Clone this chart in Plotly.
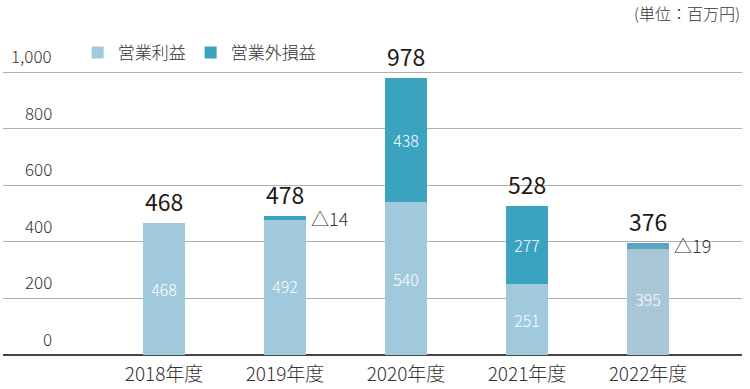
import plotly.graph_objects as go

years = ["2018年度", "2019年度", "2020年度", "2021年度", "2022年度"]
operating = [468, 492, 540, 251, 395]
non_operating = [0, -14, 438, 277, -19]
totals = [468, 478, 978, 528, 376]
y_ticks = [0, 200, 400, 600, 800, 1000]
y_tick_labels = ["0", "200", "400", "600", "800", "1,000"]

light_colors = ["#a0cadb", "#a0cadb", "#a0cadb", "#a0cadb", "#a7c6d8"]
dark_colors = ["#3aa4c0", "#3aa4c0", "#3aa4c0", "#3aa4c0", "#5ba5c0"]

FONT = "Noto Sans CJK JP"
xs = list(range(len(years)))

fig = go.Figure()
fig.add_trace(go.Bar(
    x=xs, y=operating, base=0, name="営業利益",
    marker=dict(color=light_colors, line=dict(width=0)),
    width=0.34,
    text=[str(v) for v in operating], textposition="inside",
    insidetextanchor="middle", textangle=0,
    textfont=dict(family=FONT, size=16, color="white", weight=300),
))
fig.add_trace(go.Bar(
    x=xs, y=non_operating, base=operating, name="営業外損益",
    marker=dict(color=dark_colors, line=dict(width=0)),
    width=0.34,
    text=[str(v) if v > 0 else "" for v in non_operating], textposition="inside",
    insidetextanchor="middle", textangle=0,
    textfont=dict(family=FONT, size=16, color="white", weight=300),
))

annotations = []
for i, (op, no, tot) in enumerate(zip(operating, non_operating, totals)):
    top = max(op, op + no)
    annotations.append(dict(
        x=i, y=top, xref="x", yref="y", text=str(tot), showarrow=False,
        yanchor="bottom", yshift=3,
        font=dict(family=FONT, size=23, color="#231815"),
    ))
    if no < 0:
        annotations.append(dict(
            x=i + 0.17, y=top, xref="x", yref="y", text="△" + str(-no), showarrow=False,
            xanchor="left", yanchor="middle", xshift=3, yshift=-2,
            font=dict(family=FONT, size=18, color="#333333", weight=300),
        ))
for v, lab in zip(y_ticks, y_tick_labels):
    annotations.append(dict(
        x=0.069, y=v, xref="paper", yref="y", text=lab, showarrow=False,
        xanchor="right", yanchor="bottom", yshift=2,
        font=dict(family=FONT, size=17, color="#333333", weight=300),
    ))
annotations.append(dict(
    x=1, y=1 + 27 / 315, xref="paper", yref="paper", text="(単位：百万円)",
    showarrow=False, xanchor="right", yanchor="middle",
    font=dict(family=FONT, size=16, color="#333333", weight=300),
))

fig.update_layout(
    width=750, height=389,
    margin=dict(l=3, r=8, t=40, b=34),
    paper_bgcolor="white", plot_bgcolor="white",
    barmode="overlay", bargap=0,
    font=dict(family=FONT, color="#333333"),
    showlegend=True,
    legend=dict(
        orientation="h", x=0.101, y=0.959, xanchor="left", yanchor="middle",
        font=dict(family=FONT, size=17, color="#333333", weight=300),
        itemwidth=30, traceorder="normal", bgcolor="rgba(0,0,0,0)",
    ),
    annotations=annotations,
    xaxis=dict(
        range=[-1.331, 4.777], tickvals=xs, ticktext=years,
        showgrid=False, zeroline=False, showline=False, ticks="",
        tickfont=dict(family=FONT, size=19, color="#333333", weight=300),
        ticklabelstandoff=6, automargin=False,
    ),
    yaxis=dict(
        range=[0, 1114.1], tickvals=y_ticks,
        showticklabels=False,
        showgrid=True, gridcolor="#b0b0b0", gridwidth=1,
        zeroline=True, zerolinecolor="#444444", zerolinewidth=1.5,
        showline=False, ticks="",
        automargin=False,
    ),
)

fig.write_html(
    "out.html",
    config={"displayModeBar": False},
    post_script="document.body.style.margin='0';document.body.style.overflow='hidden';",
)
